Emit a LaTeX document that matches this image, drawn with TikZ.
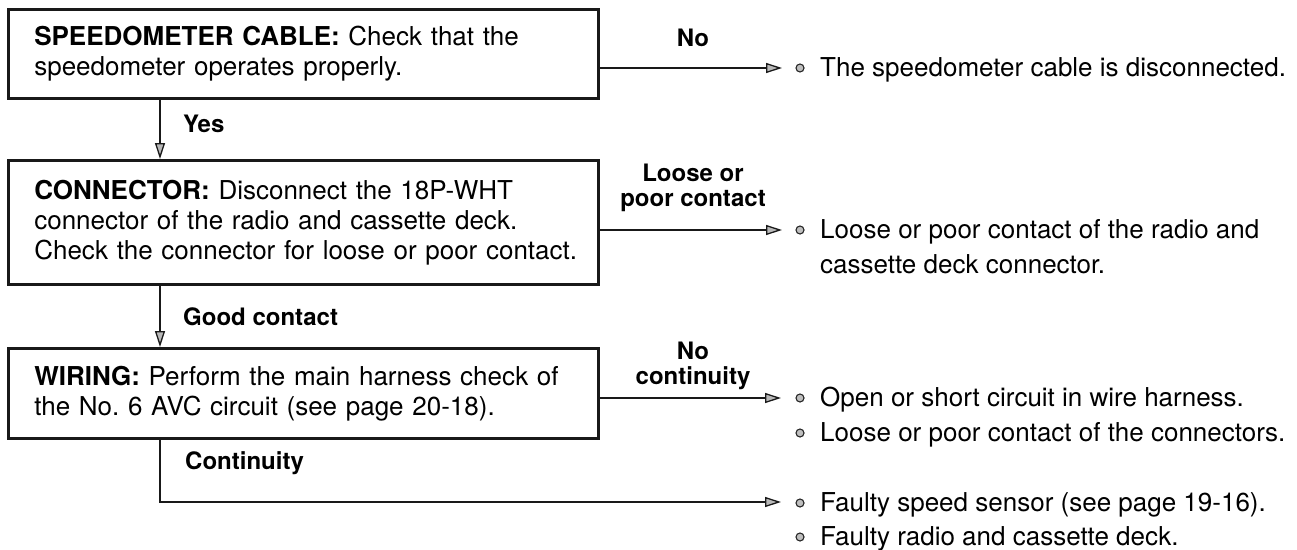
\documentclass[tikz,border=0pt]{standalone}
\usepackage{fontspec}
\setmainfont{TeX Gyre Heros}
\usetikzlibrary{arrows.meta}
\newcommand{\ind}{\hspace*{26pt}}
\newcommand{\bxline}[1]{\mbox{#1}}
\frenchspacing
\begin{document}
\begin{tikzpicture}[x=1pt,y=-1pt,
  box/.style={draw=black!90, line width=2.6pt, anchor=north west, minimum width=590pt,
    text width=590pt, inner xsep=0pt, inner ysep=0pt, align=left,
    font=\fontsize{26}{30}\selectfont},
  lbl/.style={font=\bfseries\fontsize{24}{25}\selectfont, align=center, inner sep=0pt},
  res/.style={anchor=base west, font=\fontsize{26}{30}\selectfont, inner sep=0pt},
  bul/.style={circle, draw=black!85, fill=gray!50, line width=1.1pt, minimum size=8pt, inner sep=0pt},
  arr/.style={draw=black!90, line width=2.4pt, -{Triangle[length=16pt,width=10pt,fill=gray!55,line width=1.3pt]}}
]
\useasboundingbox (0,0) rectangle (1297,549);

% boxes
\node[box, minimum height=89pt] (b1) at (7,8)
  {\ind\bxline{\textbf{SPEEDOMETER CABLE:} Check that the}\\\ind\bxline{speedometer operates properly.}};
\node[box, minimum height=124pt] (b2) at (7,159)
  {\ind\bxline{\textbf{CONNECTOR:} Disconnect the 18P-WHT}\\\ind\bxline{connector of the radio and cassette deck.}\\\ind\bxline{Check the connector for loose or poor contact.}};
\node[box, minimum height=90pt] (b3) at (7,347)
  {\ind\bxline{\textbf{WIRING:} Perform the main harness check of}\\\ind\bxline{the No. 6 AVC circuit (see page 20-18).}};

% coordinates
\coordinate (xa) at (160,0);
\coordinate (t1) at (782,68);
\coordinate (t2) at (782,230);
\coordinate (t3) at (781,398);
\coordinate (t4) at (781,502);

% labels
\node[lbl] (lno) at (693,38) {No};
\node[lbl] (lloose) at (693,188) {Loose or\\poor contact};
\node[lbl] (lnocont) at (693,366) {No\\continuity};
\node[lbl, anchor=west] (lyes) at (183,124) {Yes};
\node[lbl, anchor=west] (lgood) at (183,317) {Good contact};
\node[lbl, anchor=west] (lcont) at (185,463) {Continuity};

% results
\node[bul] (u1) at (800,68) {};
\node[res] (r1) at (820,76) {The speedometer cable is disconnected.};
\node[bul] (u2) at (800,230) {};
\node[res] (r2a) at (820,238) {Loose or poor contact of the radio and};
\node[res] (r2b) at (820,273) {cassette deck connector.};
\node[bul] (u3) at (800,398) {};
\node[res] (r3a) at (820,406) {Open or short circuit in wire harness.};
\node[bul] (u3b) at (800,433) {};
\node[res] (r3b) at (820,441) {Loose or poor contact of the connectors.};
\node[bul] (u4) at (800,503) {};
\node[res] (r4a) at (820,511) {Faulty speed sensor (see page 19-16).};
\node[bul] (u4b) at (800,537) {};
\node[res] (r4b) at (820,545) {Faulty radio and cassette deck.};

% connectors
\draw[arr] (b1.south -| xa) -- (b2.north -| xa);
\draw[arr] (b2.south -| xa) -- (b3.north -| xa);
\draw[arr] (b1.east |- t1) -- (t1);
\draw[arr] (b2.east |- t2) -- (t2);
\draw[arr] (b3.east |- t3) -- (t3);
\draw[arr] (b3.south -| xa) |- (t4);
\end{tikzpicture}
\end{document}
